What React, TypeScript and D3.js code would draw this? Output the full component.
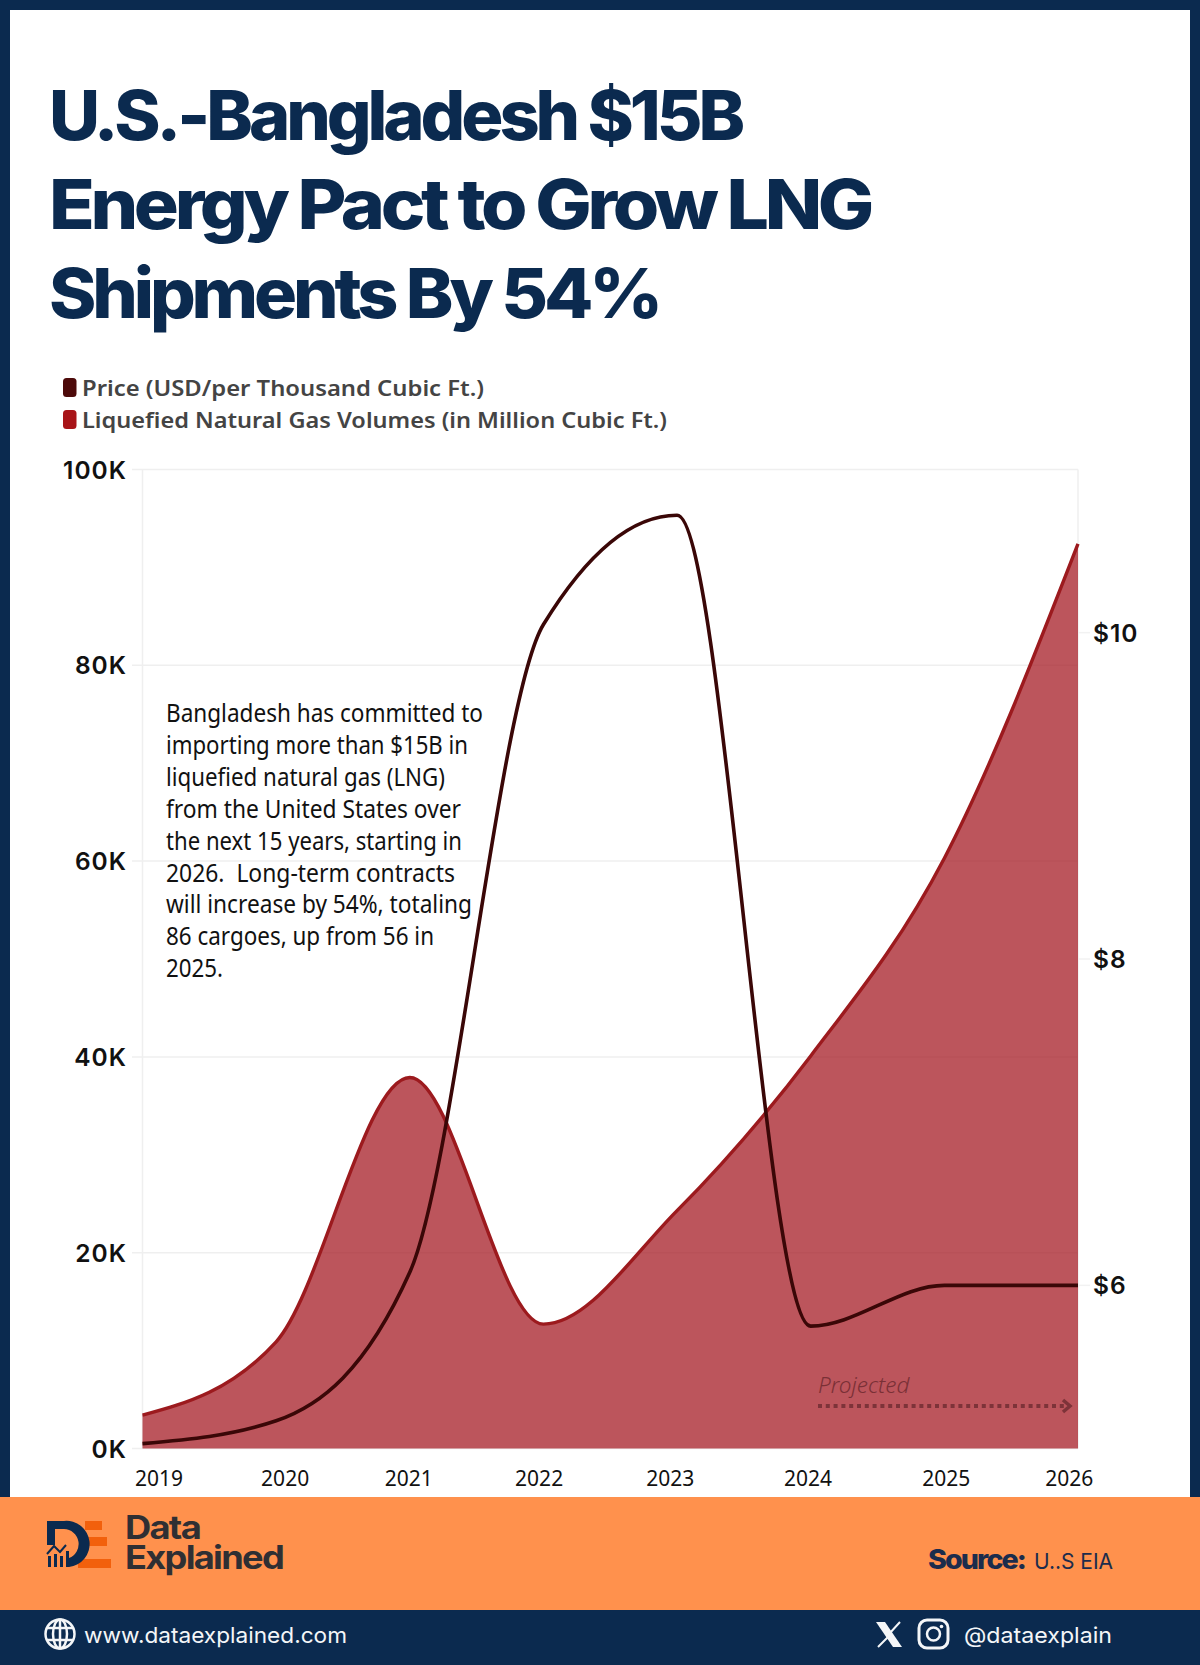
import React from "react";
import * as d3 from "d3";

const years = [2019, 2020, 2021, 2022, 2023, 2024, 2025, 2026];
const lngVolumes = [3400, 10900, 37900, 12700, 24300, 40100, 60300, 92400];
const prices = [5.03, 5.17, 6.08, 10.05, 10.72, 5.75, 6.0, 6.0];
const volumeTicks = [0, 20000, 40000, 60000, 80000, 100000];
const priceTicks = [6, 8, 10];
const titleLines = ["U.S.-Bangladesh $15B", "Energy Pact to Grow LNG", "Shipments By 54%"];
const noteLines = [
  "Bangladesh has committed to",
  "importing more than $15B in",
  "liquefied natural gas (LNG)",
  "from the United States over",
  "the next 15 years, starting in",
  "2026.  Long-term contracts",
  "will increase by 54%, totaling",
  "86 cargoes, up from 56 in",
  "2025.",
];
const legendLabels = ["Price (USD/per Thousand Cubic Ft.)", "Liquefied Natural Gas Volumes (in Million Cubic Ft.)"];

// layout-only tables
const yearLabelNudge = [16.5, 9, -1, -4.3, -6.9, -2.6, 1.8, -8.8];
const titleWidths = [692, 821, 610];
const noteWidths = [317, 302, 279, 295, 296, 289, 306, 268, 57];
const legendWidths = [402, 585];

const NAVY = "#0b2a4f";
const ORANGE = "#ff914d";
const W = 1200;
const H = 1665;
const plot = { left: 142.5, right: 1078, top: 469.5, bottom: 1448.5 };

export default function App() {
  const x = d3.scaleLinear().domain([2019, 2026]).range([plot.left, plot.right]);
  const yVol = d3.scaleLinear().domain([0, 100000]).range([plot.bottom, plot.top]);
  const yPrice = d3.scaleLinear().domain([5, 11]).range([plot.bottom, plot.top]);

  const area = d3
    .area<number>()
    .x((_, i) => x(years[i]))
    .y0(yVol(0))
    .y1((d) => yVol(d))
    .curve(d3.curveMonotoneX);
  const volLine = d3
    .line<number>()
    .x((_, i) => x(years[i]))
    .y((d) => yVol(d))
    .curve(d3.curveMonotoneX);
  const priceLine = d3
    .line<number>()
    .x((_, i) => x(years[i]))
    .y((d) => yPrice(d))
    .curve(d3.curveMonotoneX);

  const sans = "'Noto Sans', sans-serif";
  const head = "Inter, sans-serif";

  return (
    <svg
      width={W}
      height={H}
      viewBox={`0 0 ${W} ${H}`}
      style={{ position: "absolute", left: 0, top: 0, display: "block" }}
    >
      <rect width={W} height={H} fill={NAVY} />
      <rect x={10} y={10} width={1180} height={1490} fill="#fff" />

      {titleLines.map((t, i) => (
        <text
          key={t}
          x={49}
          y={140 + i * 89}
          fontFamily={head}
          fontWeight={800}
          fontSize={69}
          letterSpacing={-4}
          fill={NAVY}
          textLength={titleWidths[i]}
          lengthAdjust="spacingAndGlyphs"
        >
          {t}
        </text>
      ))}

      {legendLabels.map((t, i) => (
        <g key={t}>
          <rect x={63} y={378 + i * 32} width={13.5} height={19} rx={3.5} fill={i === 0 ? "#4d0a0a" : "#a81418"} />
          <text
            x={82}
            y={396 + i * 32}
            fontFamily={sans}
            fontWeight={600}
            fontSize={22}
            fill="#444"
            textLength={legendWidths[i]}
            lengthAdjust="spacingAndGlyphs"
          >
            {t}
          </text>
        </g>
      ))}

      {/* frame and grid */}
      {volumeTicks.map((v) => (
        <line key={v} x1={132} x2={plot.right} y1={yVol(v)} y2={yVol(v)} stroke="#efefef" strokeWidth={1.5} />
      ))}
      <line x1={plot.left} x2={plot.left} y1={plot.top} y2={plot.bottom} stroke="#efefef" strokeWidth={1.5} />
      <line x1={plot.right} x2={plot.right} y1={plot.top} y2={plot.bottom} stroke="#efefef" strokeWidth={1.5} />
      {priceTicks.map((p) => (
        <line key={p} x1={plot.right} x2={1090} y1={yPrice(p)} y2={yPrice(p)} stroke="#f2f2f2" strokeWidth={1.5} />
      ))}

      <path d={area(lngVolumes) ?? ""} fill="#a2141d" fillOpacity={0.72} />
      <path d={volLine(lngVolumes) ?? ""} fill="none" stroke="#9c1a1e" strokeWidth={3.4} />
      <path d={priceLine(prices) ?? ""} fill="none" stroke="#3a0707" strokeWidth={3.6} />

      {volumeTicks.map((v) => (
        <text key={v} x={127} y={yVol(v) + 9} textAnchor="end" fontFamily={head} fontWeight={600} fontSize={24.5} letterSpacing={1} fill="#111">
          {`${v / 1000}K`}
        </text>
      ))}
      {priceTicks.map((p) => (
        <text key={p} x={1093} y={yPrice(p) + 9} fontFamily={head} fontWeight={600} fontSize={24.5} letterSpacing={1} fill="#111">
          {`$${p}`}
        </text>
      ))}
      {years.map((yr, i) => (
        <text
          key={yr}
          x={x(yr) + yearLabelNudge[i]}
          y={1486}
          textAnchor="middle"
          fontFamily={sans}
          fontSize={21}
          fill="#111"
        >
          {yr}
        </text>
      ))}

      {noteLines.map((t, i) => (
        <text
          key={t}
          x={166}
          y={722 + i * 31.9}
          fontFamily={sans}
          fontSize={25}
          fill="#111"
          xmlSpace="preserve"
          textLength={noteWidths[i]}
          lengthAdjust="spacingAndGlyphs"
        >
          {t}
        </text>
      ))}

      {/* projected marker */}
      <text x={818} y={1393} fontFamily={sans} fontStyle="italic" fontWeight={300} fontSize={22.5} fill="#7a3036">
        Projected
      </text>
      <line x1={818} x2={1066} y1={1406} y2={1406} stroke="#7d3339" strokeWidth={4} strokeDasharray="4 3.8" />
      <path d="M1063 1400 L1070 1406 L1063 1412" fill="none" stroke="#7d3339" strokeWidth={3.5} />

      {/* footer bands */}
      <rect x={0} y={1497} width={W} height={113} fill={ORANGE} />
      <rect x={0} y={1610} width={W} height={55} fill={NAVY} />

      {/* logo */}
      <g>
        <rect x={85} y={1521} width={17} height={9} fill="#f2600c" />
        <rect x={88} y={1537} width={19} height={9} fill="#f2600c" />
        <rect x={78} y={1559} width={33} height={9} fill="#f2600c" />
        <path
          d="M47 1521 H64 A23 23 0 0 1 69 1567 V1558 A15 15 0 0 0 64 1529 H55 V1545 H47 Z"
          fill={NAVY}
        />
        <path d="M47 1554 L54 1546 L60 1552 L66 1545" fill="none" stroke={NAVY} strokeWidth={2} />
        <rect x={48} y={1556} width={3} height={11} fill={NAVY} />
        <rect x={54} y={1554} width={3} height={13} fill={NAVY} />
        <rect x={60} y={1556} width={3} height={11} fill={NAVY} />
        <rect x={66} y={1551} width={3} height={16} fill={NAVY} />
      </g>
      <text x={125} y={1539} fontFamily={head} fontWeight={700} fontSize={32} letterSpacing={-1.5} fill="#2f2f33" textLength={75} lengthAdjust="spacingAndGlyphs">
        Data
      </text>
      <text x={125} y={1569} fontFamily={head} fontWeight={700} fontSize={32} letterSpacing={-1.5} fill="#2f2f33" textLength={158} lengthAdjust="spacingAndGlyphs">
        Explained
      </text>
      <text x={928} y={1569} fontFamily={head} fontWeight={800} fontSize={27} letterSpacing={-1.8} fill="#1c2c4c" textLength={97} lengthAdjust="spacingAndGlyphs">
        Source:
      </text>
      <text x={1034} y={1569} fontFamily={head} fontWeight={400} fontSize={22} fill="#1c2c4c" textLength={79} lengthAdjust="spacingAndGlyphs">
        U..S EIA
      </text>

      {/* bottom bar */}
      <g fill="none" stroke="#f4f6f8" strokeWidth={2.5}>
        <circle cx={60} cy={1634} r={14.5} />
        <ellipse cx={60} cy={1634} rx={7} ry={14.5} />
        <line x1={60} x2={60} y1={1619.5} y2={1648.5} />
        <line x1={47} x2={73} y1={1628} y2={1628} />
        <line x1={47} x2={73} y1={1640} y2={1640} />
      </g>
      <text x={84} y={1643} fontFamily={head} fontSize={22} fill="#f4f6f8" textLength={263} lengthAdjust="spacingAndGlyphs">
        www.dataexplained.com
      </text>
      <path d="M876 1622 H885 L902 1647 H893 Z" fill="#f4f6f8" />
      <path d="M900 1622 L889 1634 M889 1636 L878 1647" stroke="#f4f6f8" strokeWidth={2} fill="none" />
      <g fill="none" stroke="#f4f6f8">
        <rect x={919} y={1620} width={29} height={28} rx={8} strokeWidth={3} />
        <circle cx={933.5} cy={1634} r={6.5} strokeWidth={2.5} />
      </g>
      <circle cx={941.5} cy={1626.5} r={1.8} fill="#f4f6f8" />
      <text x={964} y={1643} fontFamily={head} fontSize={22} fill="#f4f6f8" textLength={148} lengthAdjust="spacingAndGlyphs">
        @dataexplain
      </text>
    </svg>
  );
}
